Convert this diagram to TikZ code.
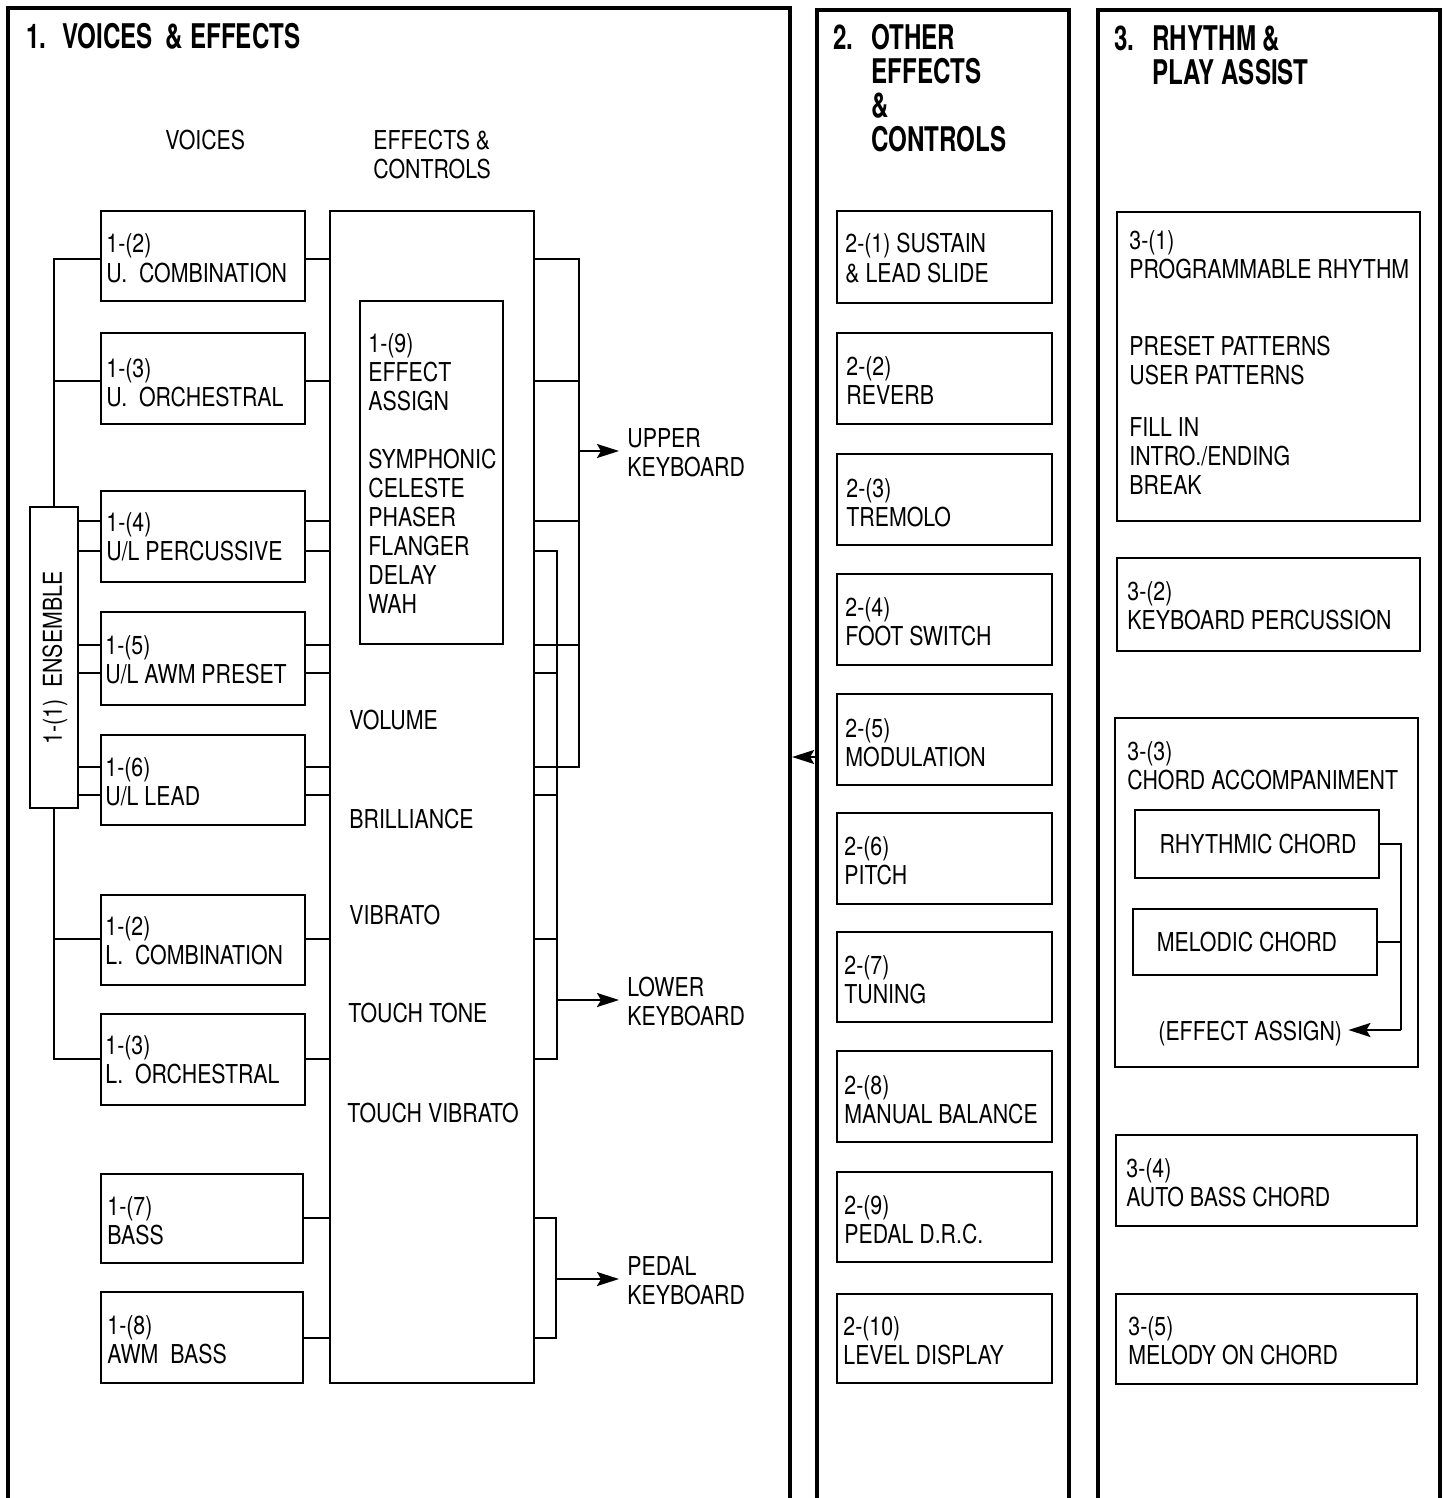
\documentclass[tikz,border=0pt]{standalone}
\usepackage{fontspec}
\setmainfont{TeX Gyre Heros}[FakeStretch=0.82]
\newfontfamily\titlefont{TeX Gyre Heros}[FakeStretch=0.71]
\usetikzlibrary{fit,arrows.meta}
\begin{document}
\begin{tikzpicture}[x=0.5pt,y=-0.5pt,
  bx/.style={draw,line width=1pt,inner sep=0pt},
  panel/.style={draw,line width=2.1pt,inner sep=0pt},
  txt/.style={inner sep=0pt,anchor=base west,align=left,font=\fontsize{13}{14.5}\selectfont},
  ttl/.style={inner sep=0pt,anchor=base west,align=left,font=\titlefont\bfseries\fontsize{17}{17}\selectfont},
  ln/.style={line width=1pt},
  arr/.style={line width=1pt,-{Stealth[length=11pt,width=7pt,inset=2pt]}}]
\fill[white] (0,0) rectangle (1444,1498);
\useasboundingbox (0,0) rectangle (1444,1498);

% panels
\node[panel, fit={(8,8) (790,1530)}] (p1) {};
\node[panel, fit={(817,10) (1069,1530)}] (p2) {};
\node[panel, fit={(1098,10) (1440,1530)}] (p3) {};

% titles (base anchor = last line)
\node[ttl] (t1) at (26,49) {1.\hspace{8pt}VOICES\hspace{6.5pt}\&\hspace{3.5pt}EFFECTS};
\node[ttl] (t2a) at (833,50) {2.};
\node[ttl] (t2b) at (871,152) {OTHER\\EFFECTS\\\&\\CONTROLS};
\node[ttl] (t3a) at (1114,51) {3.};
\node[ttl] (t3b) at (1152,85) {RHYTHM \&\\PLAY ASSIST};

% panel 1 headings
\node[txt] (hv) at (165,150) {VOICES};
\node[txt] (he) at (373,179) {EFFECTS \&\\CONTROLS};

% voice boxes
\node[bx, fit={(101,211) (305,301)}] (uc) {};
\node[bx, fit={(101,333) (305,424)}] (uo) {};
\node[bx, fit={(101,491) (305,582)}] (pe) {};
\node[bx, fit={(101,612) (305,705)}] (aw) {};
\node[bx, fit={(101,735) (305,825)}] (le) {};
\node[bx, fit={(101,895) (305,985)}] (lc) {};
\node[bx, fit={(101,1014) (305,1105)}] (lo) {};
\node[bx, fit={(101,1174) (303,1263)}] (bs) {};
\node[bx, fit={(101,1292) (303,1383)}] (ab) {};
\node[txt] (uct) at (106,282) {1-(2)\\U.~~COMBINATION};
\node[txt] (uot) at (106,406) {1-(3)\\U.~~ORCHESTRAL};
\node[txt] (pet) at (106,560) {1-(4)\\U/L PERCUSSIVE};
\node[txt] (awt) at (105,683) {1-(5)\\U/L AWM PRESET};
\node[txt] (let) at (105,805) {1-(6)\\U/L LEAD};
\node[txt] (lct) at (105,964) {1-(2)\\L.~~COMBINATION};
\node[txt] (lot) at (105,1083) {1-(3)\\L.~~ORCHESTRAL};
\node[txt] (bst) at (107,1244) {1-(7)\\BASS};
\node[txt] (abt) at (107,1363) {1-(8)\\AWM~~BASS};

% ensemble
\node[bx, fit={(30,507) (78,808)}] (ens) {};
\node[txt, anchor=center, rotate=90] (enst) at (55,658) {1-(1)~~ENSEMBLE};

% effects box
\node[bx, fit={(330,211) (534,1383)}] (eff) {};
\node[bx, fit={(360,301) (503,644)}] (e9) {};
\node[txt] (e9t) at (368,613) {1-(9)\\EFFECT\\ASSIGN\\[14.5pt]SYMPHONIC\\CELESTE\\PHASER\\FLANGER\\DELAY\\WAH};
\node[txt] (vol) at (349,729) {VOLUME};
\node[txt] (bri) at (349,828) {BRILLIANCE};
\node[txt] (vib) at (349,924) {VIBRATO};
\node[txt] (tt) at (348,1022) {TOUCH TONE};
\node[txt] (tv) at (347,1122) {TOUCH VIBRATO};

% keyboards
\node[txt] (upk) at (627,476) {UPPER\\KEYBOARD};
\node[txt] (lok) at (627,1025) {LOWER\\KEYBOARD};
\node[txt] (pek) at (627,1304) {PEDAL\\KEYBOARD};

% ensemble connectors
\draw[ln] (ens.north) -- (ens.north |- 0,259) -- (uc.west |- 0,259);
\draw[ln] (ens.north |- 0,381) -- (uo.west |- 0,381);
\foreach \n/\y in {pe/521,pe/551,aw/645,aw/673,le/767,le/795}
  \draw[ln] (ens.east |- 0,\y) -- (\n.west |- 0,\y);
\draw[ln] (ens.south) -- (ens.south |- 0,1059) -- (lo.west |- 0,1059);
\draw[ln] (ens.south |- 0,939) -- (lc.west |- 0,939);

% voices to effects
\foreach \n/\y in {uc/259,uo/381,pe/521,pe/551,aw/645,aw/673,le/767,le/795,lc/939,lo/1059,bs/1218,ab/1338}
  \draw[ln] (\n.east |- 0,\y) -- (eff.west |- 0,\y);

% effects to keyboards
\coordinate (UB) at (579,451);
\coordinate (LB) at (557,1000);
\coordinate (PB) at (556,1279);
\foreach \y in {259,381,521,645,767}
  \draw[ln] (eff.east |- 0,\y) -| (UB);
\foreach \y in {551,673,795,939,1059}
  \draw[ln] (eff.east |- 0,\y) -| (LB);
\foreach \y in {1218,1338}
  \draw[ln] (eff.east |- 0,\y) -| (PB);
\draw[arr, shorten >=4pt] (UB) -- (UB -| upk.west);
\draw[arr, shorten >=4pt] (LB) -- (LB -| lok.west);
\draw[arr, shorten >=4pt] (PB) -- (PB -| pek.west);

% panel 2 boxes
\node[bx, fit={(837,211) (1052,303)}] (o1) {};
\node[bx, fit={(837,333) (1052,424)}] (o2) {};
\node[bx, fit={(837,454) (1052,545)}] (o3) {};
\node[bx, fit={(837,574) (1052,665)}] (o4) {};
\node[bx, fit={(837,694) (1052,785)}] (o5) {};
\node[bx, fit={(837,813) (1052,904)}] (o6) {};
\node[bx, fit={(837,932) (1052,1022)}] (o7) {};
\node[bx, fit={(837,1051) (1052,1142)}] (o8) {};
\node[bx, fit={(837,1172) (1052,1262)}] (o9) {};
\node[bx, fit={(837,1294) (1052,1383)}] (o10) {};
\node[txt] (o1t) at (845,282) {2-(1) SUSTAIN\\\& LEAD SLIDE};
\node[txt] (o2t) at (846,404) {2-(2)\\REVERB};
\node[txt] (o3t) at (846,526) {2-(3)\\TREMOLO};
\node[txt] (o4t) at (845,645) {2-(4)\\FOOT SWITCH};
\node[txt] (o5t) at (845,766) {2-(5)\\MODULATION};
\node[txt] (o6t) at (844,884) {2-(6)\\PITCH};
\node[txt] (o7t) at (844,1003) {2-(7)\\TUNING};
\node[txt] (o8t) at (844,1123) {2-(8)\\MANUAL BALANCE};
\node[txt] (o9t) at (844,1243) {2-(9)\\PEDAL D.R.C.};
\node[txt] (o10t) at (843,1364) {2-(10)\\LEVEL DISPLAY};

% panel 2 -> panel 1
\draw[arr] (p2.west |- 0,757) -- (p1.east |- 0,757);

% panel 3 boxes
\node[bx, fit={(1117,212) (1420,521)}] (r1) {};
\node[bx, fit={(1117,558) (1420,651)}] (r2) {};
\node[bx, fit={(1115,718) (1418,1067)}] (r3) {};
\node[bx, fit={(1135,810) (1379,878)}] (rc) {};
\node[bx, fit={(1133,909) (1377,975)}] (mc) {};
\node[bx, fit={(1116,1135) (1417,1226)}] (r4) {};
\node[bx, fit={(1116,1294) (1417,1384)}] (r5) {};
\node[txt] (r1t) at (1129,494) {3-(1)\\PROGRAMMABLE RHYTHM\\[24pt]PRESET PATTERNS\\USER PATTERNS\\[11.5pt]FILL IN\\INTRO./ENDING\\BREAK};
\node[txt] (r2t) at (1127,629) {3-(2)\\KEYBOARD PERCUSSION};
\node[txt] (r3t) at (1127,789) {3-(3)\\CHORD ACCOMPANIMENT};
\node[txt, anchor=center] (rct) at (1258,844) {RHYTHMIC CHORD};
\node[txt, anchor=center] (mct) at (1247,942) {MELODIC CHORD};
\node[txt] (ea) at (1158,1040) {(EFFECT ASSIGN)};
\node[txt] (r4t) at (1126,1206) {3-(4)\\AUTO BASS CHORD};
\node[txt] (r5t) at (1128,1364) {3-(5)\\MELODY ON CHORD};

\coordinate (CB) at (1401,1030);
\draw[ln] (rc.east) -| (CB);
\draw[ln] (mc.east) -| (CB);
\draw[arr, shorten >=3pt] (CB) -- (CB -| ea.east);
\end{tikzpicture}
\end{document}
